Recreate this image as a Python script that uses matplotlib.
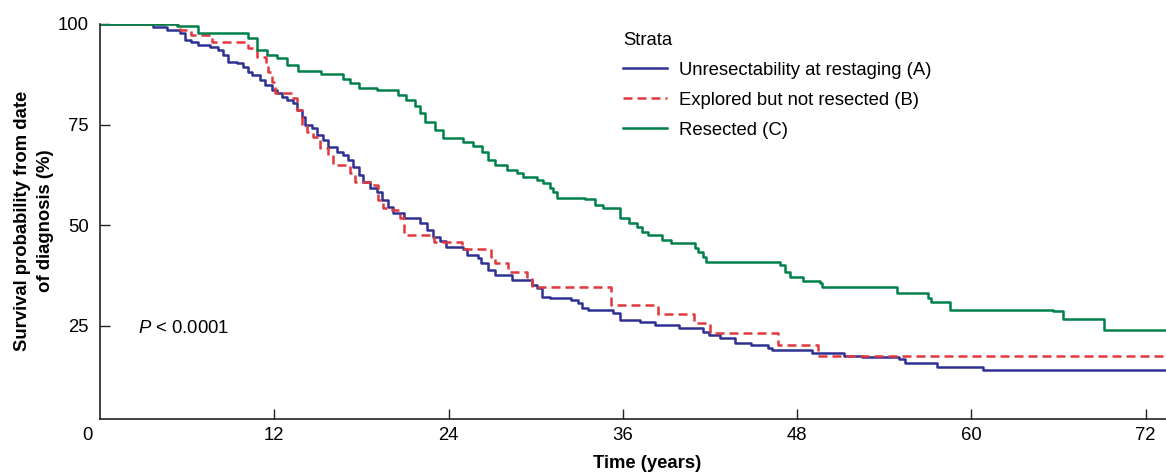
import matplotlib
matplotlib.use("Agg")
import matplotlib.pyplot as plt

plt.rcParams['font.family'] = ['Liberation Sans', 'DejaVu Sans']
plt.rcParams['mathtext.fontset'] = 'custom'
plt.rcParams['mathtext.rm'] = 'Liberation Sans'
plt.rcParams['mathtext.it'] = 'Liberation Sans:italic'

# Kaplan-Meier steps: time of drop (years), survival after drop (%)
time_a = [3.65, 4.6, 5.5, 5.85, 6.3, 6.75, 7.6, 8.1, 8.5, 8.8, 9.4, 9.85, 10.2, 10.5,
          11.0, 11.35, 11.85, 12.2, 12.5, 12.9, 13.3, 13.55, 13.9, 14.1, 14.6, 14.95,
          15.35, 15.7, 16.3, 16.7, 17.1, 17.4, 17.8, 18.1, 18.6, 19.1, 19.4, 19.8, 20.2,
          20.9, 22.0, 22.5, 22.9, 23.4, 23.8, 25.0, 25.3, 26.0, 26.2, 26.7, 27.2, 28.4,
          29.75, 30.1, 30.4, 31.0, 32.4, 32.9, 33.2, 33.6, 35.3, 35.8, 37.2, 38.2, 39.9,
          41.5, 41.9, 42.7, 43.7, 44.8, 46.0, 46.3, 49.0, 51.2, 52.5, 55.0, 55.4, 57.6,
          60.8]
surv_a = [99.3, 98.5, 97.8, 96.0, 95.5, 94.8, 94.3, 93.5, 92.3, 90.6, 90.3, 89.3, 88.1,
          87.3, 86.1, 84.9, 83.6, 82.9, 81.9, 81.1, 80.4, 78.6, 76.9, 74.9, 74.2, 72.4,
          71.2, 69.5, 68.2, 67.5, 66.2, 64.5, 62.5, 60.8, 59.3, 58.3, 56.3, 54.6, 53.1,
          51.8, 50.6, 48.8, 47.1, 46.0, 44.6, 44.1, 42.6, 41.8, 40.6, 38.9, 37.7, 36.4,
          35.2, 34.4, 32.2, 32.0, 31.5, 30.7, 29.5, 29.0, 28.2, 26.5, 26.0, 25.3, 24.5,
          23.5, 22.8, 22.0, 20.8, 20.3, 19.5, 19.0, 18.3, 17.6, 17.2, 16.7, 15.7, 14.7,
          14.1]

time_b = [5.5, 6.3, 7.7, 10.2, 10.8, 11.4, 11.6, 11.85, 12.05, 13.3, 13.55, 13.9, 14.25,
          14.7, 15.15, 15.7, 16.05, 17.2, 17.55, 18.8, 19.15, 19.5, 20.1, 20.65, 20.9,
          23.0, 24.9, 26.9, 27.2, 28.1, 29.4, 29.75, 35.2, 38.4, 40.9, 42.0, 46.7, 49.45]
surv_b = [98.5, 97.3, 95.5, 94.0, 91.8, 90.3, 88.1, 85.6, 82.9, 81.6, 78.6, 74.9, 73.2,
          72.0, 69.2, 67.5, 65.0, 63.0, 60.8, 60.0, 56.3, 54.3, 53.8, 51.8, 47.6,
          45.8, 44.0, 42.1, 40.6, 38.4, 36.7, 34.7, 30.2, 28.0, 25.8, 23.3, 20.3, 17.6]

time_c = [5.3, 6.75, 10.2, 10.8, 11.5, 12.2, 12.9, 13.6, 15.2, 16.7, 17.2, 17.8, 19.1,
          20.5, 21.1, 21.7, 22.0, 22.4, 23.1, 23.6, 25.0, 25.7, 26.3, 26.7, 27.2, 28.0,
          28.7, 29.1, 30.1, 30.5, 31.0, 31.2, 31.5, 33.4, 34.1, 34.6, 35.8, 36.4, 37.0,
          37.3, 37.7, 38.7, 39.3, 41.0, 41.2, 41.5, 41.7, 46.8, 47.2, 47.5, 48.4, 49.6,
          49.7, 54.9, 57.0, 57.2, 58.5, 65.6, 66.3, 69.1]
surv_c = [99.5, 97.8, 96.5, 93.5, 92.3, 91.5, 89.8, 88.3, 87.6, 86.3, 85.3, 84.1, 83.6,
          82.4, 81.1, 79.6, 77.9, 75.7, 73.7, 71.7, 70.7, 69.7, 68.2, 66.2, 65.0, 63.7,
          63.0, 62.0, 61.3, 60.5, 59.3, 58.3, 56.8, 56.5, 55.0, 54.3, 51.8, 50.6, 49.6,
          48.3, 47.6, 46.4, 45.6, 44.4, 43.4, 42.1, 40.9, 40.2, 38.4, 37.2, 36.2, 35.7,
          34.7, 33.2, 32.0, 31.0, 29.0, 28.7, 26.7, 24.0]

labels = ["Unresectability at restaging (A)", "Explored but not resected (B)", "Resected (C)"]
colors = ["#2E3192", "#E2373C", "#00814A"]
x_ticks = [12, 24, 36, 48, 60, 72]
y_ticks = [25, 50, 75, 100]
x_max = 73.4


def km_steps(times, survs):
    t = [0] + times + [x_max]
    s = [100] + survs + [survs[-1]]
    return t, s


fig = plt.figure(figsize=(11.66, 4.73), dpi=100)
ax = fig.add_axes([100 / 1166, 1 - 419 / 473, 1 - 100 / 1166, (419 - 24) / 473])

series = [(time_a, surv_a), (time_b, surv_b), (time_c, surv_c)]
for (tt, ss), lab, col in zip(series, labels, colors):
    t, s = km_steps(tt, ss)
    if lab.startswith("Explored"):
        ax.step(t, s, where='post', color=col, lw=1.8, dashes=(3.6, 2.0), label=lab)
    else:
        ax.step(t, s, where='post', color=col, lw=1.8, label=lab)

ax.set_xlim(0, x_max)
ax.set_ylim(1.9, 100)
ax.set_xticks(x_ticks)
ax.set_yticks(y_ticks)
ax.tick_params(direction='in', length=7, width=1, labelsize=13.3, color='#222222')
ax.tick_params(axis='y', pad=8)
ax.tick_params(axis='x', pad=6)
for side in ('top', 'right'):
    ax.spines[side].set_visible(False)
for side in ('left', 'bottom'):
    ax.spines[side].set_linewidth(1.2)
    ax.spines[side].set_color('#222222')

ax.annotate("0", xy=(0, 0), xycoords='axes fraction', xytext=(-13, -16),
            textcoords='offset pixels', ha='center', va='center', fontsize=13.3)

ax.set_xlabel("Time (years)", fontsize=13.3, fontweight='bold')
ax.xaxis.set_label_coords((647 - 100) / 1066, -0.092)
fig.text(34 / 1166, 1 - 221 / 473, "Survival probability from date\nof diagnosis (%)",
         rotation=90, ha='center', va='center', multialignment='center',
         fontsize=13.3, fontweight='bold', linespacing=1.45)

ax.text(2.6, 24.5, "$P$ < 0.0001", fontsize=13.3, ha='left', va='center')

ax.legend(title="Strata", loc='upper left', bbox_to_anchor=(623 / 1166, 1 - 32 / 473),
          bbox_transform=fig.transFigure, frameon=False, fontsize=13.3, title_fontsize=13.3,
          alignment='left', borderpad=0, borderaxespad=0, handlelength=2.4,
          handletextpad=0.65, labelspacing=0.7)

fig.savefig("out.png", dpi=100)
